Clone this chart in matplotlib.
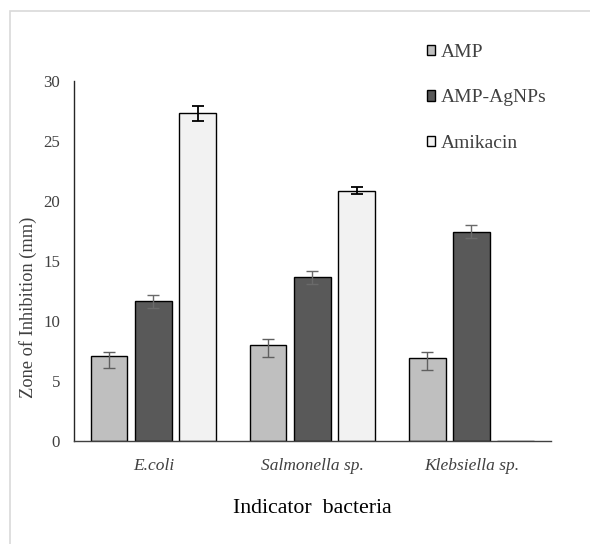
import numpy as np
import matplotlib.pyplot as plt
from matplotlib.patches import Rectangle

# Data
bacteria = ["E.coli", "Salmonella sp.", "Klebsiella sp."]
series = ["AMP", "AMP-AgNPs", "Amikacin"]
amp = [7.1, 8.0, 6.95]
amp_err_lo = [1.0, 1.0, 1.0]
amp_err_hi = [0.3, 0.5, 0.5]
agnps = [11.65, 13.65, 17.45]
agnps_err = [0.55, 0.55, 0.55]
amikacin = [27.3, 20.85, 0.0]
amikacin_err = [0.6, 0.28, 0.0]

colors = ["#bfbfbf", "#595959", "#f2f2f2"]
plt.rcParams['font.family'] = ['Liberation Serif', 'DejaVu Serif']

fig = plt.figure(figsize=(5.9, 5.44), dpi=100)
ax = fig.add_axes([0.1254, 0.1893, 0.8085, 0.6618])

x = np.arange(len(bacteria))
w = 0.227
step = 0.277

ax.bar(x - step, amp, w, color=colors[0], edgecolor="black", linewidth=1.0, label=series[0])
ax.errorbar(x - step, amp, yerr=[amp_err_lo, amp_err_hi], fmt="none",
            ecolor="#5f5f5f", elinewidth=1.0, capsize=4, capthick=1.0)
ax.bar(x, agnps, w, color=colors[1], edgecolor="black", linewidth=1.0, label=series[1])
ax.errorbar(x, agnps, yerr=agnps_err, fmt="none",
            ecolor="#6a6a6a", elinewidth=1.0, capsize=4, capthick=1.0)
ax.bar(x + step, amikacin, w, color=colors[2], edgecolor="black", linewidth=1.0, label=series[2])
mask = np.array(amikacin_err) > 0
ax.errorbar((x + step)[mask], np.array(amikacin)[mask], yerr=np.array(amikacin_err)[mask],
            fmt="none", ecolor="black", elinewidth=1.3, capsize=4, capthick=1.3)

ax.set_xlim(-0.5, 2.5)
ax.set_ylim(0, 30)
ax.set_yticks(range(0, 31, 5))
ax.set_xticks(x)
ax.set_xticklabels(bacteria, fontstyle="italic", fontsize=12.5, color="#404040")
ax.tick_params(axis="y", length=0, pad=10, labelsize=12.2, labelcolor="#404040")
ax.tick_params(axis="x", length=0, pad=12)

for s in ["top", "right"]:
    ax.spines[s].set_visible(False)
ax.spines["left"].set_linewidth(1.0)
ax.spines["bottom"].set_linewidth(1.0)
ax.spines["left"].set_color("#262626")
ax.spines["bottom"].set_color("#404040")

ax.set_ylabel("Zone of Inhibition (mm)", fontsize=13.2, color="#404040")
ax.yaxis.set_label_coords(-0.078, 0.37)
ax.set_xlabel("Indicator  bacteria", fontsize=15.7, color="black")
ax.xaxis.set_label_coords(0.5, -0.16)

ax.legend(loc="upper left", bbox_to_anchor=(417 / 590, 1 - 34 / 544),
          bbox_transform=fig.transFigure, frameon=False, fontsize=14,
          handlelength=0.45, handleheight=0.45, handletextpad=0.3,
          labelspacing=1.47, borderpad=0, labelcolor="#404040")

# light grey frame around the chart area
fig.patches.append(Rectangle((10 / 590, -0.1), 1.2, 1.1 - 11 / 544,
                             transform=fig.transFigure, fill=False,
                             edgecolor="#d9d9d9", linewidth=1.2))

fig.savefig("out.png", dpi=100)
